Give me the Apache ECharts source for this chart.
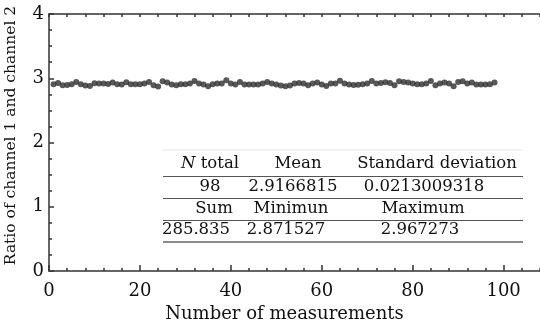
<!DOCTYPE html>
<html>
<head>
<meta charset="utf-8">
<script src="https://cdn.jsdelivr.net/npm/echarts@6/dist/echarts.min.js"></script>
<style>
  html, body { margin: 0; padding: 0; background: #fff; }
  #chart { width: 540px; height: 325px; }
</style>
</head>
<body>
<div id="chart"></div>
<script>
// Ratio of channel 1 to channel 2 for each of the 98 measurements
const ratio = [
  2.906, 2.927, 2.891, 2.896, 2.906, 2.943, 2.906, 2.886, 2.880, 2.922,
  2.917, 2.917, 2.911, 2.932, 2.906, 2.901, 2.937, 2.906, 2.906, 2.906,
  2.917, 2.943, 2.891, 2.871527, 2.953, 2.932, 2.901, 2.891, 2.906, 2.906,
  2.917, 2.958, 2.917, 2.901, 2.876, 2.906, 2.917, 2.917, 2.967273, 2.917,
  2.901, 2.943, 2.901, 2.901, 2.901, 2.901, 2.917, 2.943, 2.917, 2.901,
  2.886, 2.875, 2.886, 2.917, 2.927, 2.917, 2.891, 2.917, 2.932, 2.901,
  2.880, 2.917, 2.917, 2.962, 2.917, 2.901, 2.896, 2.898, 2.906, 2.917,
  2.958, 2.917, 2.927, 2.937, 2.927, 2.891, 2.953, 2.943, 2.932, 2.917,
  2.906, 2.906, 2.917, 2.958, 2.891, 2.917, 2.932, 2.917, 2.874, 2.943,
  2.953, 2.917, 2.932, 2.901, 2.901, 2.901, 2.906, 2.932
];
// Measurement number (1-based) of each ratio
const measurement = ratio.map((_, i) => i + 1);

// Axis tick labels
const xTickLabels = [0, 20, 40, 60, 80, 100];
const yTickLabels = [0, 1, 2, 3, 4];

// Summary statistics table rows
const statHead1 = ['{it|N} total', 'Mean', 'Standard deviation'];
const statRow1  = ['98', '2.9166815', '0.0213009318'];
const statHead2 = ['Sum', 'Minimun', 'Maximum'];
const statRow2  = ['285.835', '2.871527', '2.967273'];

const FONT = 'DejaVu Serif';
const INK = '#111';
const AXIS = '#333';
const TABLE_FS = 16.5;

// Table layout: column centres per row, row middles, rule positions
const tableRows = [
  { cells: statHead1, y: 164, xs: [210, 298, 437] },
  { cells: statRow1,  y: 187, xs: [210, 293, 424] },
  { cells: statHead2, y: 209, xs: [214, 291, 423] },
  { cells: statRow2,  y: 230, xs: [196, 286, 420] }
];
const rules = [
  { y: 150, w: 1, c: '#e4e4e4' },
  { y: 176.5, w: 1, c: '#555' },
  { y: 198.5, w: 1, c: '#555' },
  { y: 220.5, w: 1, c: '#555' },
  { y: 242, w: 2, c: '#8a8a8a' }
];
const tableX0 = 163, tableX1 = 523;

const graphic = [];
tableRows.forEach(row => {
  row.cells.forEach((txt, k) => {
    graphic.push({
      type: 'text',
      x: row.xs[k], y: row.y,
      style: {
        text: txt,
        fill: INK,
        font: TABLE_FS + 'px "' + FONT + '"',
        textAlign: 'center',
        textVerticalAlign: 'middle',
        rich: { it: { fontStyle: 'italic', fontFamily: FONT, fontSize: TABLE_FS, fill: INK } }
      }
    });
  });
});
rules.forEach(r => {
  graphic.push({
    type: 'line',
    shape: { x1: tableX0, y1: r.y, x2: tableX1, y2: r.y },
    style: { stroke: r.c, lineWidth: r.w }
  });
});

const chart = echarts.init(document.getElementById('chart'), null, { renderer: 'canvas' });

const lineStyle = { color: AXIS, width: 1.5 };

chart.setOption({
  animation: false,
  backgroundColor: '#fff',
  grid: { left: 49, right: 0, top: 14, bottom: 54, containLabel: false, outerBoundsMode: 'none' },
  xAxis: [
    {
      // bottom axis: line, major ticks, labels, title
      type: 'value', position: 'bottom', min: 0, max: 108,
      axisLine: { show: true, lineStyle },
      axisTick: { show: true, inside: true, length: 6, customValues: xTickLabels, lineStyle },
      axisLabel: {
        customValues: xTickLabels, color: INK, fontFamily: FONT, fontSize: 18, margin: 11
      },
      splitLine: { show: false },
      name: 'Number of measurements', nameLocation: 'middle', nameGap: 32,
      nameTextStyle: { color: INK, fontFamily: FONT, fontSize: 18, padding: [0, 20, 0, 0] }
    },
    {
      // bottom axis: minor ticks
      type: 'value', position: 'bottom', min: 0, max: 108, interval: 4,
      axisLine: { show: false },
      axisTick: { show: true, inside: true, length: 3, lineStyle },
      axisLabel: { show: false },
      splitLine: { show: false }
    },
    {
      // top frame with inward ticks
      type: 'value', position: 'top', min: 0, max: 108, interval: 4,
      axisLine: { show: true, lineStyle },
      axisTick: { show: true, inside: true, length: 3, lineStyle },
      axisLabel: { show: false },
      splitLine: { show: false }
    }
  ],
  yAxis: {
    type: 'value', min: 0, max: 4, interval: 1,
    axisLine: { show: true, lineStyle },
    axisTick: { show: true, inside: true, length: 5, customValues: yTickLabels, lineStyle },
    minorTick: { show: true, splitNumber: 4, length: 3, lineStyle },
    axisLabel: { customValues: yTickLabels, color: INK, fontFamily: FONT, fontSize: 18, margin: 5 },
    splitLine: { show: false },
    name: 'Ratio of channel 1 and channel 2', nameLocation: 'middle', nameGap: 30,
    nameTextStyle: { color: INK, fontFamily: FONT, fontSize: 15.5, padding: [0, 0, 0, 14] }
  },
  series: [{
    type: 'scatter',
    xAxisIndex: 0,
    data: measurement.map((m, i) => [m, ratio[i]]),
    symbol: 'circle',
    symbolSize: 6,
    itemStyle: { color: '#2e2e2e' },
    emphasis: { disabled: true }
  }],
  graphic
});
</script>
</body>
</html>
